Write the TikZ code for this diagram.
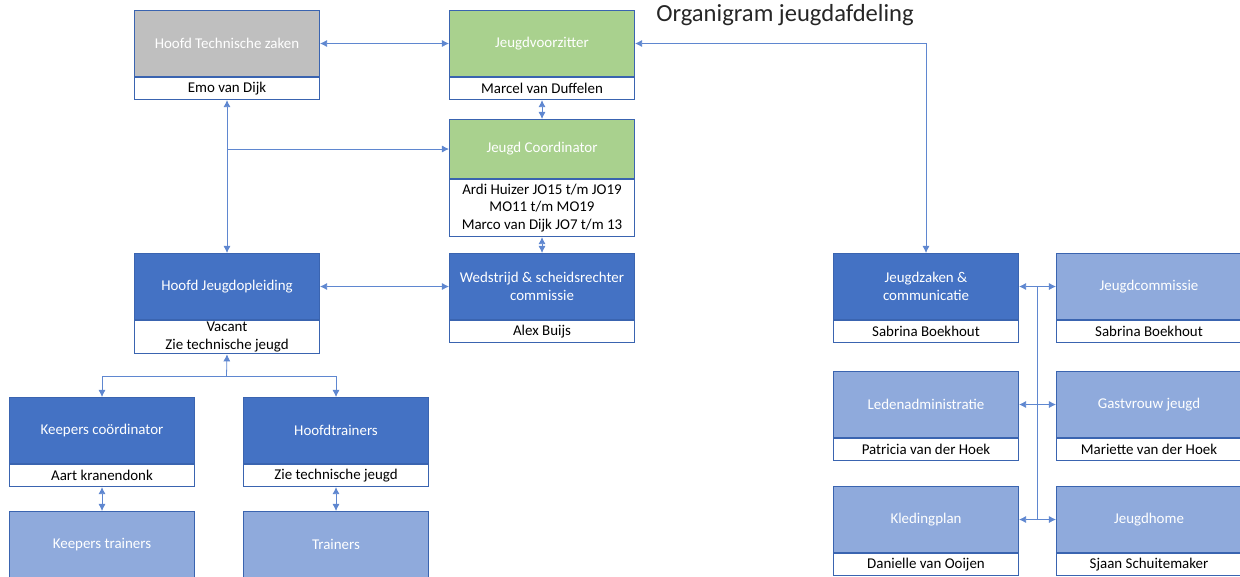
\documentclass[tikz,border=0pt]{standalone}
\usepackage{fontspec}
\setmainfont{Carlito}
\usetikzlibrary{arrows.meta}
\definecolor{boxblue}{RGB}{68,114,196}
\definecolor{lightblue}{RGB}{143,170,220}
\definecolor{edgeblue}{RGB}{58,100,176}
\definecolor{lineblue}{RGB}{95,135,208}
\definecolor{greybox}{RGB}{191,191,191}
\definecolor{greenbox}{RGB}{169,209,142}
\tikzset{
  hdr/.style={draw=edgeblue,line width=0.6pt,minimum width=3.7cm,minimum height=1.32cm,
    anchor=north west,inner sep=1pt,text=white,align=center,font=\fontsize{8.5}{10.5}\selectfont},
  darkhdr/.style={hdr,fill=boxblue},
  lighthdr/.style={hdr,fill=lightblue},
  persbox/.style={draw=edgeblue,line width=0.6pt,fill=white,minimum width=3.7cm,minimum height=0.44cm,
    anchor=north west,inner sep=1pt,align=center,font=\fontsize{8.5}{10}\selectfont},
  link/.style={draw=lineblue,line width=0.45pt,{Latex[length=4pt,width=4pt]}-{Latex[length=4pt,width=4pt]}},
  onelink/.style={draw=lineblue,line width=0.45pt,-{Latex[length=4pt,width=4pt]}}
}
\begin{document}
\begin{tikzpicture}[x=0.02cm,y=-0.02cm]
  \useasboundingbox (0,0) rectangle (1240,577);
  \node[font=\fontsize{14}{16}\selectfont,text={black!85}] (title) at (785,15) {Organigram jeugdafdeling};
  % (top row and coordinator)
  \node[hdr,fill=greybox] (hts) at (134,10) {Hoofd Technische zaken};
  \node[persbox] (hts-n) at (hts.south west) {Emo van Dijk};
  \node[hdr,fill=greenbox] (jv) at (449,10) {Jeugdvoorzitter};
  \node[persbox] (jv-n) at (jv.south west) {Marcel van Duffelen};
  \node[hdr,fill=greenbox,minimum height=1.18cm] (jc) at (449,119) {Jeugd Coordinator};
  \node[persbox,minimum height=1.14cm] (jc-n) at (jc.south west) {Ardi Huizer JO15 t/m JO19\\MO11 t/m MO19\\Marco van Dijk JO7 t/m 13};
  % (middle row)
  \node[darkhdr] (hjo) at (134,253) {Hoofd Jeugdopleiding};
  \node[persbox,minimum height=0.66cm] (hjo-n) at (hjo.south west) {Vacant\\Zie technische jeugd};
  \node[darkhdr] (wsc) at (449,253) {Wedstrijd \& scheidsrechter\\commissie};
  \node[persbox] (wsc-n) at (wsc.south west) {Alex Buijs};
  % (trainers)
  \node[darkhdr] (kc) at (9,397) {Keepers co\"ordinator};
  \node[persbox] (kc-n) at (kc.south west) {Aart kranendonk};
  \node[darkhdr] (ht) at (243,397) {Hoofdtrainers};
  \node[persbox] (ht-n) at (ht.south west) {Zie technische jeugd};
  \node[lighthdr] (kt) at (9,511) {Keepers trainers};
  \node[lighthdr] (tr) at (243,511) {Trainers};
  % (jeugdzaken group)
  \node[darkhdr] (jz) at (833,253) {Jeugdzaken \&\\communicatie};
  \node[persbox] (jz-n) at (jz.south west) {Sabrina Boekhout};
  \node[lighthdr] (jcom) at (1056,253) {Jeugdcommissie};
  \node[persbox] (jcom-n) at (jcom.south west) {Sabrina Boekhout};
  \node[lighthdr] (la) at (833,371) {Ledenadministratie};
  \node[persbox] (la-n) at (la.south west) {Patricia van der Hoek};
  \node[lighthdr] (gv) at (1056,371) {Gastvrouw jeugd};
  \node[persbox] (gv-n) at (gv.south west) {Mariette van der Hoek};
  \node[lighthdr] (kp) at (833,486) {Kledingplan};
  \node[persbox] (kp-n) at (kp.south west) {Danielle van Ooijen};
  \node[lighthdr] (jh) at (1056,486) {Jeugdhome};
  \node[persbox] (jh-n) at (jh.south west) {Sjaan Schuitemaker};
  % (connectors)
  \coordinate (split1) at (hts-n.south |- jc.west);
  \coordinate (split2) at (226.5,376);
  \coordinate (bus) at (1037,0);
  \draw[link] (hts.east) -- (jv.west);
  \draw[link] (jv-n.south) -- (jc.north);
  \draw[link] (jc-n.south) -- (wsc.north);
  \draw[link] (hjo.north) -- (hts-n.south);
  \draw[onelink] (split1) -- (jc.west);
  \draw[link] (hjo.east) -- (wsc.west);
  \draw[onelink] (split2) -- (hjo-n.south);
  \draw[onelink] (split2) -| (kc.north);
  \draw[onelink] (split2) -| (ht.north);
  \draw[link] (kc-n.south) -- (kt.north);
  \draw[link] (ht-n.south) -- (tr.north);
  \draw[link] (jz.north) |- (jv.east);
  \draw[draw=lineblue,line width=0.45pt] (bus |- jz.east) -- (bus |- kp.east);
  \draw[link] (jz.east) -- (jcom.west);
  \draw[link] (la.east) -- (gv.west);
  \draw[link] (kp.east) -- (jh.west);
\end{tikzpicture}
\end{document}
